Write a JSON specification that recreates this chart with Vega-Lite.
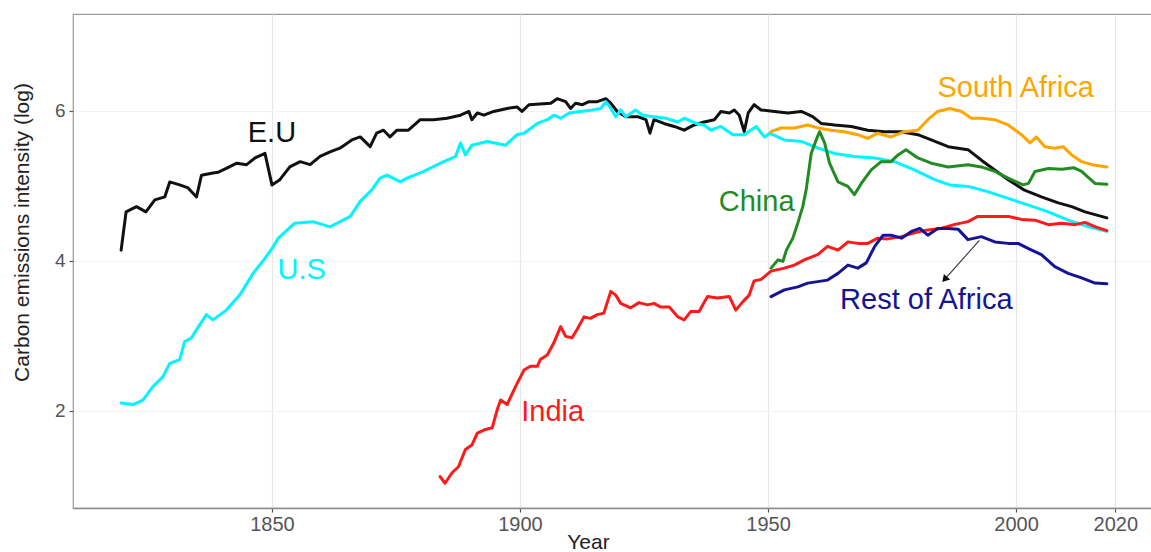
{
  "$schema": "https://vega.github.io/schema/vega-lite/v6.json",
  "autosize": "none",
  "width": 1082,
  "height": 494,
  "padding": {"left": 73, "top": 14, "right": 0, "bottom": 44},
  "background": "white",
  "config": {
    "view": {"stroke": "#9a9a9a", "strokeWidth": 1.2},
    "font": "Liberation Sans"
  },
  "datasets": {
    "series": [
      {"region": "E.U", "year": 1819.6, "value": 4.14},
      {"region": "E.U", "year": 1820.6, "value": 4.65},
      {"region": "E.U", "year": 1822.7, "value": 4.72},
      {"region": "E.U", "year": 1824.6, "value": 4.65},
      {"region": "E.U", "year": 1826.4, "value": 4.81},
      {"region": "E.U", "year": 1828.4, "value": 4.85},
      {"region": "E.U", "year": 1829.4, "value": 5.05},
      {"region": "E.U", "year": 1831.4, "value": 5.01},
      {"region": "E.U", "year": 1833.1, "value": 4.97},
      {"region": "E.U", "year": 1834.8, "value": 4.85},
      {"region": "E.U", "year": 1835.8, "value": 5.14},
      {"region": "E.U", "year": 1838.1, "value": 5.17},
      {"region": "E.U", "year": 1839.2, "value": 5.18},
      {"region": "E.U", "year": 1840.8, "value": 5.23},
      {"region": "E.U", "year": 1842.9, "value": 5.30},
      {"region": "E.U", "year": 1844.9, "value": 5.28},
      {"region": "E.U", "year": 1846.6, "value": 5.37},
      {"region": "E.U", "year": 1848.6, "value": 5.43},
      {"region": "E.U", "year": 1850.0, "value": 5.01},
      {"region": "E.U", "year": 1851.6, "value": 5.08},
      {"region": "E.U", "year": 1853.6, "value": 5.25},
      {"region": "E.U", "year": 1855.7, "value": 5.32},
      {"region": "E.U", "year": 1857.7, "value": 5.28},
      {"region": "E.U", "year": 1859.7, "value": 5.39},
      {"region": "E.U", "year": 1861.7, "value": 5.45},
      {"region": "E.U", "year": 1863.7, "value": 5.50},
      {"region": "E.U", "year": 1866.1, "value": 5.61},
      {"region": "E.U", "year": 1867.8, "value": 5.65},
      {"region": "E.U", "year": 1869.8, "value": 5.52},
      {"region": "E.U", "year": 1871.1, "value": 5.70},
      {"region": "E.U", "year": 1872.5, "value": 5.74},
      {"region": "E.U", "year": 1873.8, "value": 5.65},
      {"region": "E.U", "year": 1875.2, "value": 5.74},
      {"region": "E.U", "year": 1877.5, "value": 5.74},
      {"region": "E.U", "year": 1879.9, "value": 5.88},
      {"region": "E.U", "year": 1882.6, "value": 5.88},
      {"region": "E.U", "year": 1885.3, "value": 5.90},
      {"region": "E.U", "year": 1888.0, "value": 5.94},
      {"region": "E.U", "year": 1889.7, "value": 5.99},
      {"region": "E.U", "year": 1890.3, "value": 5.88},
      {"region": "E.U", "year": 1891.4, "value": 5.97},
      {"region": "E.U", "year": 1892.7, "value": 5.94},
      {"region": "E.U", "year": 1894.7, "value": 5.99},
      {"region": "E.U", "year": 1897.4, "value": 6.03},
      {"region": "E.U", "year": 1899.4, "value": 6.05},
      {"region": "E.U", "year": 1900.4, "value": 5.99},
      {"region": "E.U", "year": 1901.8, "value": 6.08},
      {"region": "E.U", "year": 1906.2, "value": 6.10},
      {"region": "E.U", "year": 1907.5, "value": 6.16},
      {"region": "E.U", "year": 1909.2, "value": 6.12},
      {"region": "E.U", "year": 1910.2, "value": 6.03},
      {"region": "E.U", "year": 1911.2, "value": 6.10},
      {"region": "E.U", "year": 1912.6, "value": 6.08},
      {"region": "E.U", "year": 1913.9, "value": 6.12},
      {"region": "E.U", "year": 1915.6, "value": 6.12},
      {"region": "E.U", "year": 1917.3, "value": 6.16},
      {"region": "E.U", "year": 1918.3, "value": 6.10},
      {"region": "E.U", "year": 1919.6, "value": 5.99},
      {"region": "E.U", "year": 1921.3, "value": 5.92},
      {"region": "E.U", "year": 1923.7, "value": 5.92},
      {"region": "E.U", "year": 1925.4, "value": 5.88},
      {"region": "E.U", "year": 1926.2, "value": 5.70},
      {"region": "E.U", "year": 1927.0, "value": 5.88},
      {"region": "E.U", "year": 1929.0, "value": 5.83},
      {"region": "E.U", "year": 1931.1, "value": 5.79},
      {"region": "E.U", "year": 1933.1, "value": 5.74},
      {"region": "E.U", "year": 1935.1, "value": 5.81},
      {"region": "E.U", "year": 1937.1, "value": 5.85},
      {"region": "E.U", "year": 1939.2, "value": 5.88},
      {"region": "E.U", "year": 1940.5, "value": 5.99},
      {"region": "E.U", "year": 1942.2, "value": 5.97},
      {"region": "E.U", "year": 1943.2, "value": 6.01},
      {"region": "E.U", "year": 1944.2, "value": 5.94},
      {"region": "E.U", "year": 1945.2, "value": 5.72},
      {"region": "E.U", "year": 1946.0, "value": 5.97},
      {"region": "E.U", "year": 1947.2, "value": 6.08},
      {"region": "E.U", "year": 1948.6, "value": 6.01},
      {"region": "E.U", "year": 1951.3, "value": 5.99},
      {"region": "E.U", "year": 1954.0, "value": 5.97},
      {"region": "E.U", "year": 1956.7, "value": 5.99},
      {"region": "E.U", "year": 1959.0, "value": 5.92},
      {"region": "E.U", "year": 1960.7, "value": 5.83},
      {"region": "E.U", "year": 1963.4, "value": 5.81},
      {"region": "E.U", "year": 1966.8, "value": 5.79},
      {"region": "E.U", "year": 1970.1, "value": 5.74},
      {"region": "E.U", "year": 1973.5, "value": 5.72},
      {"region": "E.U", "year": 1976.9, "value": 5.72},
      {"region": "E.U", "year": 1980.2, "value": 5.68},
      {"region": "E.U", "year": 1982.9, "value": 5.61},
      {"region": "E.U", "year": 1986.3, "value": 5.52},
      {"region": "E.U", "year": 1990.3, "value": 5.48},
      {"region": "E.U", "year": 1993.0, "value": 5.34},
      {"region": "E.U", "year": 1995.7, "value": 5.21},
      {"region": "E.U", "year": 1998.4, "value": 5.08},
      {"region": "E.U", "year": 2001.7, "value": 4.94},
      {"region": "E.U", "year": 2005.1, "value": 4.85},
      {"region": "E.U", "year": 2008.5, "value": 4.77},
      {"region": "E.U", "year": 2011.2, "value": 4.72},
      {"region": "E.U", "year": 2013.9, "value": 4.65},
      {"region": "E.U", "year": 2018.3, "value": 4.57},

      {"region": "U.S", "year": 1819.6, "value": 2.10},
      {"region": "U.S", "year": 1822.0, "value": 2.08},
      {"region": "U.S", "year": 1824.0, "value": 2.14},
      {"region": "U.S", "year": 1826.0, "value": 2.32},
      {"region": "U.S", "year": 1828.0, "value": 2.45},
      {"region": "U.S", "year": 1829.4, "value": 2.63},
      {"region": "U.S", "year": 1831.4, "value": 2.68},
      {"region": "U.S", "year": 1832.4, "value": 2.92},
      {"region": "U.S", "year": 1833.8, "value": 2.97},
      {"region": "U.S", "year": 1834.8, "value": 3.08},
      {"region": "U.S", "year": 1836.8, "value": 3.28},
      {"region": "U.S", "year": 1838.1, "value": 3.21},
      {"region": "U.S", "year": 1840.8, "value": 3.34},
      {"region": "U.S", "year": 1843.5, "value": 3.54},
      {"region": "U.S", "year": 1846.2, "value": 3.83},
      {"region": "U.S", "year": 1848.6, "value": 4.03},
      {"region": "U.S", "year": 1850.3, "value": 4.19},
      {"region": "U.S", "year": 1851.3, "value": 4.30},
      {"region": "U.S", "year": 1854.6, "value": 4.50},
      {"region": "U.S", "year": 1858.3, "value": 4.52},
      {"region": "U.S", "year": 1861.7, "value": 4.45},
      {"region": "U.S", "year": 1865.8, "value": 4.59},
      {"region": "U.S", "year": 1867.8, "value": 4.79},
      {"region": "U.S", "year": 1870.1, "value": 4.94},
      {"region": "U.S", "year": 1871.8, "value": 5.10},
      {"region": "U.S", "year": 1873.2, "value": 5.14},
      {"region": "U.S", "year": 1875.9, "value": 5.05},
      {"region": "U.S", "year": 1877.2, "value": 5.10},
      {"region": "U.S", "year": 1880.6, "value": 5.19},
      {"region": "U.S", "year": 1884.0, "value": 5.30},
      {"region": "U.S", "year": 1887.0, "value": 5.39},
      {"region": "U.S", "year": 1888.0, "value": 5.57},
      {"region": "U.S", "year": 1889.0, "value": 5.41},
      {"region": "U.S", "year": 1890.3, "value": 5.54},
      {"region": "U.S", "year": 1893.4, "value": 5.59},
      {"region": "U.S", "year": 1897.1, "value": 5.54},
      {"region": "U.S", "year": 1899.4, "value": 5.68},
      {"region": "U.S", "year": 1900.8, "value": 5.70},
      {"region": "U.S", "year": 1903.5, "value": 5.83},
      {"region": "U.S", "year": 1905.5, "value": 5.88},
      {"region": "U.S", "year": 1906.8, "value": 5.94},
      {"region": "U.S", "year": 1908.2, "value": 5.90},
      {"region": "U.S", "year": 1909.9, "value": 5.97},
      {"region": "U.S", "year": 1912.2, "value": 5.99},
      {"region": "U.S", "year": 1914.6, "value": 6.01},
      {"region": "U.S", "year": 1916.3, "value": 6.03},
      {"region": "U.S", "year": 1917.3, "value": 6.12},
      {"region": "U.S", "year": 1918.3, "value": 6.03},
      {"region": "U.S", "year": 1919.3, "value": 5.92},
      {"region": "U.S", "year": 1920.3, "value": 6.01},
      {"region": "U.S", "year": 1921.3, "value": 5.92},
      {"region": "U.S", "year": 1923.3, "value": 6.01},
      {"region": "U.S", "year": 1924.7, "value": 5.94},
      {"region": "U.S", "year": 1927.0, "value": 5.92},
      {"region": "U.S", "year": 1929.4, "value": 5.90},
      {"region": "U.S", "year": 1931.8, "value": 5.85},
      {"region": "U.S", "year": 1933.1, "value": 5.90},
      {"region": "U.S", "year": 1935.5, "value": 5.83},
      {"region": "U.S", "year": 1937.1, "value": 5.81},
      {"region": "U.S", "year": 1938.5, "value": 5.74},
      {"region": "U.S", "year": 1940.5, "value": 5.79},
      {"region": "U.S", "year": 1942.9, "value": 5.68},
      {"region": "U.S", "year": 1945.2, "value": 5.68},
      {"region": "U.S", "year": 1947.6, "value": 5.79},
      {"region": "U.S", "year": 1949.3, "value": 5.65},
      {"region": "U.S", "year": 1950.3, "value": 5.70},
      {"region": "U.S", "year": 1953.3, "value": 5.61},
      {"region": "U.S", "year": 1956.7, "value": 5.59},
      {"region": "U.S", "year": 1960.1, "value": 5.50},
      {"region": "U.S", "year": 1963.4, "value": 5.43},
      {"region": "U.S", "year": 1967.4, "value": 5.39},
      {"region": "U.S", "year": 1971.5, "value": 5.37},
      {"region": "U.S", "year": 1975.5, "value": 5.32},
      {"region": "U.S", "year": 1979.5, "value": 5.21},
      {"region": "U.S", "year": 1983.6, "value": 5.08},
      {"region": "U.S", "year": 1986.6, "value": 5.01},
      {"region": "U.S", "year": 1990.3, "value": 4.99},
      {"region": "U.S", "year": 1994.3, "value": 4.92},
      {"region": "U.S", "year": 1998.4, "value": 4.83},
      {"region": "U.S", "year": 2002.5, "value": 4.74},
      {"region": "U.S", "year": 2006.5, "value": 4.65},
      {"region": "U.S", "year": 2010.5, "value": 4.54},
      {"region": "U.S", "year": 2014.6, "value": 4.45},
      {"region": "U.S", "year": 2018.3, "value": 4.39},

      {"region": "South Africa", "year": 1950.6, "value": 5.72},
      {"region": "South Africa", "year": 1952.6, "value": 5.77},
      {"region": "South Africa", "year": 1955.3, "value": 5.77},
      {"region": "South Africa", "year": 1958.0, "value": 5.81},
      {"region": "South Africa", "year": 1960.1, "value": 5.77},
      {"region": "South Africa", "year": 1962.7, "value": 5.74},
      {"region": "South Africa", "year": 1965.4, "value": 5.72},
      {"region": "South Africa", "year": 1968.1, "value": 5.68},
      {"region": "South Africa", "year": 1970.1, "value": 5.63},
      {"region": "South Africa", "year": 1972.1, "value": 5.70},
      {"region": "South Africa", "year": 1974.8, "value": 5.65},
      {"region": "South Africa", "year": 1977.5, "value": 5.72},
      {"region": "South Africa", "year": 1980.2, "value": 5.74},
      {"region": "South Africa", "year": 1982.2, "value": 5.88},
      {"region": "South Africa", "year": 1984.2, "value": 5.99},
      {"region": "South Africa", "year": 1986.6, "value": 6.03},
      {"region": "South Africa", "year": 1989.0, "value": 5.99},
      {"region": "South Africa", "year": 1991.0, "value": 5.90},
      {"region": "South Africa", "year": 1993.0, "value": 5.90},
      {"region": "South Africa", "year": 1995.7, "value": 5.88},
      {"region": "South Africa", "year": 1998.4, "value": 5.81},
      {"region": "South Africa", "year": 2001.1, "value": 5.68},
      {"region": "South Africa", "year": 2002.8, "value": 5.57},
      {"region": "South Africa", "year": 2004.1, "value": 5.65},
      {"region": "South Africa", "year": 2005.8, "value": 5.52},
      {"region": "South Africa", "year": 2007.8, "value": 5.50},
      {"region": "South Africa", "year": 2009.5, "value": 5.52},
      {"region": "South Africa", "year": 2011.2, "value": 5.41},
      {"region": "South Africa", "year": 2013.2, "value": 5.32},
      {"region": "South Africa", "year": 2015.3, "value": 5.28},
      {"region": "South Africa", "year": 2018.3, "value": 5.25},

      {"region": "China", "year": 1950.6, "value": 3.90},
      {"region": "China", "year": 1952.0, "value": 4.01},
      {"region": "China", "year": 1953.0, "value": 3.99},
      {"region": "China", "year": 1953.7, "value": 4.14},
      {"region": "China", "year": 1955.0, "value": 4.30},
      {"region": "China", "year": 1956.0, "value": 4.50},
      {"region": "China", "year": 1957.0, "value": 4.72},
      {"region": "China", "year": 1957.7, "value": 4.95},
      {"region": "China", "year": 1958.7, "value": 5.43},
      {"region": "China", "year": 1959.7, "value": 5.61},
      {"region": "China", "year": 1960.4, "value": 5.72},
      {"region": "China", "year": 1961.4, "value": 5.57},
      {"region": "China", "year": 1962.4, "value": 5.30},
      {"region": "China", "year": 1964.1, "value": 5.05},
      {"region": "China", "year": 1966.1, "value": 4.99},
      {"region": "China", "year": 1967.4, "value": 4.88},
      {"region": "China", "year": 1968.8, "value": 5.03},
      {"region": "China", "year": 1970.8, "value": 5.21},
      {"region": "China", "year": 1972.8, "value": 5.32},
      {"region": "China", "year": 1974.8, "value": 5.32},
      {"region": "China", "year": 1976.2, "value": 5.41},
      {"region": "China", "year": 1977.8, "value": 5.48},
      {"region": "China", "year": 1980.2, "value": 5.37},
      {"region": "China", "year": 1982.9, "value": 5.30},
      {"region": "China", "year": 1986.3, "value": 5.25},
      {"region": "China", "year": 1990.3, "value": 5.28},
      {"region": "China", "year": 1993.0, "value": 5.25},
      {"region": "China", "year": 1995.7, "value": 5.19},
      {"region": "China", "year": 1998.4, "value": 5.10},
      {"region": "China", "year": 2001.4, "value": 5.01},
      {"region": "China", "year": 2002.5, "value": 5.03},
      {"region": "China", "year": 2003.8, "value": 5.19},
      {"region": "China", "year": 2006.5, "value": 5.23},
      {"region": "China", "year": 2009.2, "value": 5.22},
      {"region": "China", "year": 2011.6, "value": 5.24},
      {"region": "China", "year": 2013.2, "value": 5.19},
      {"region": "China", "year": 2015.9, "value": 5.03},
      {"region": "China", "year": 2018.3, "value": 5.02},

      {"region": "India", "year": 1883.9, "value": 1.12},
      {"region": "India", "year": 1884.9, "value": 1.03},
      {"region": "India", "year": 1886.3, "value": 1.17},
      {"region": "India", "year": 1887.6, "value": 1.25},
      {"region": "India", "year": 1889.0, "value": 1.48},
      {"region": "India", "year": 1890.3, "value": 1.54},
      {"region": "India", "year": 1891.4, "value": 1.70},
      {"region": "India", "year": 1892.7, "value": 1.74},
      {"region": "India", "year": 1894.4, "value": 1.77},
      {"region": "India", "year": 1895.4, "value": 2.01},
      {"region": "India", "year": 1896.1, "value": 2.14},
      {"region": "India", "year": 1897.4, "value": 2.08},
      {"region": "India", "year": 1899.1, "value": 2.32},
      {"region": "India", "year": 1900.8, "value": 2.54},
      {"region": "India", "year": 1902.1, "value": 2.59},
      {"region": "India", "year": 1903.5, "value": 2.59},
      {"region": "India", "year": 1904.1, "value": 2.68},
      {"region": "India", "year": 1905.5, "value": 2.74},
      {"region": "India", "year": 1906.8, "value": 2.90},
      {"region": "India", "year": 1908.2, "value": 3.12},
      {"region": "India", "year": 1909.2, "value": 2.99},
      {"region": "India", "year": 1910.5, "value": 2.97},
      {"region": "India", "year": 1911.5, "value": 3.08},
      {"region": "India", "year": 1912.9, "value": 3.25},
      {"region": "India", "year": 1914.2, "value": 3.23},
      {"region": "India", "year": 1915.6, "value": 3.28},
      {"region": "India", "year": 1916.9, "value": 3.30},
      {"region": "India", "year": 1918.3, "value": 3.59},
      {"region": "India", "year": 1919.3, "value": 3.54},
      {"region": "India", "year": 1920.3, "value": 3.43},
      {"region": "India", "year": 1922.3, "value": 3.37},
      {"region": "India", "year": 1924.0, "value": 3.44},
      {"region": "India", "year": 1925.7, "value": 3.41},
      {"region": "India", "year": 1927.0, "value": 3.43},
      {"region": "India", "year": 1928.4, "value": 3.38},
      {"region": "India", "year": 1930.1, "value": 3.38},
      {"region": "India", "year": 1931.8, "value": 3.25},
      {"region": "India", "year": 1933.1, "value": 3.21},
      {"region": "India", "year": 1934.4, "value": 3.32},
      {"region": "India", "year": 1936.1, "value": 3.32},
      {"region": "India", "year": 1937.8, "value": 3.52},
      {"region": "India", "year": 1939.8, "value": 3.50},
      {"region": "India", "year": 1942.2, "value": 3.52},
      {"region": "India", "year": 1943.5, "value": 3.34},
      {"region": "India", "year": 1944.9, "value": 3.45},
      {"region": "India", "year": 1946.2, "value": 3.54},
      {"region": "India", "year": 1947.2, "value": 3.73},
      {"region": "India", "year": 1948.6, "value": 3.75},
      {"region": "India", "year": 1950.6, "value": 3.86},
      {"region": "India", "year": 1953.3, "value": 3.90},
      {"region": "India", "year": 1955.3, "value": 3.94},
      {"region": "India", "year": 1957.3, "value": 4.01},
      {"region": "India", "year": 1960.0, "value": 4.08},
      {"region": "India", "year": 1962.0, "value": 4.19},
      {"region": "India", "year": 1964.1, "value": 4.14},
      {"region": "India", "year": 1966.1, "value": 4.25},
      {"region": "India", "year": 1968.1, "value": 4.23},
      {"region": "India", "year": 1970.1, "value": 4.23},
      {"region": "India", "year": 1972.1, "value": 4.30},
      {"region": "India", "year": 1974.1, "value": 4.29},
      {"region": "India", "year": 1976.9, "value": 4.32},
      {"region": "India", "year": 1979.5, "value": 4.37},
      {"region": "India", "year": 1982.2, "value": 4.41},
      {"region": "India", "year": 1984.8, "value": 4.43},
      {"region": "India", "year": 1987.5, "value": 4.48},
      {"region": "India", "year": 1990.3, "value": 4.52},
      {"region": "India", "year": 1992.3, "value": 4.59},
      {"region": "India", "year": 1995.7, "value": 4.59},
      {"region": "India", "year": 1998.4, "value": 4.59},
      {"region": "India", "year": 2001.1, "value": 4.55},
      {"region": "India", "year": 2003.8, "value": 4.54},
      {"region": "India", "year": 2006.5, "value": 4.48},
      {"region": "India", "year": 2009.2, "value": 4.50},
      {"region": "India", "year": 2011.9, "value": 4.48},
      {"region": "India", "year": 2013.9, "value": 4.51},
      {"region": "India", "year": 2016.0, "value": 4.45},
      {"region": "India", "year": 2018.3, "value": 4.40},

      {"region": "Rest of Africa", "year": 1950.6, "value": 3.52},
      {"region": "Rest of Africa", "year": 1953.3, "value": 3.61},
      {"region": "Rest of Africa", "year": 1956.0, "value": 3.65},
      {"region": "Rest of Africa", "year": 1958.0, "value": 3.70},
      {"region": "Rest of Africa", "year": 1960.0, "value": 3.72},
      {"region": "Rest of Africa", "year": 1962.0, "value": 3.74},
      {"region": "Rest of Africa", "year": 1964.1, "value": 3.83},
      {"region": "Rest of Africa", "year": 1966.1, "value": 3.94},
      {"region": "Rest of Africa", "year": 1968.1, "value": 3.90},
      {"region": "Rest of Africa", "year": 1969.8, "value": 3.97},
      {"region": "Rest of Africa", "year": 1971.5, "value": 4.19},
      {"region": "Rest of Africa", "year": 1973.2, "value": 4.34},
      {"region": "Rest of Africa", "year": 1974.8, "value": 4.34},
      {"region": "Rest of Africa", "year": 1976.9, "value": 4.30},
      {"region": "Rest of Africa", "year": 1978.9, "value": 4.39},
      {"region": "Rest of Africa", "year": 1980.6, "value": 4.43},
      {"region": "Rest of Africa", "year": 1982.2, "value": 4.34},
      {"region": "Rest of Africa", "year": 1984.2, "value": 4.43},
      {"region": "Rest of Africa", "year": 1986.3, "value": 4.43},
      {"region": "Rest of Africa", "year": 1988.3, "value": 4.42},
      {"region": "Rest of Africa", "year": 1990.3, "value": 4.28},
      {"region": "Rest of Africa", "year": 1993.0, "value": 4.32},
      {"region": "Rest of Africa", "year": 1995.7, "value": 4.25},
      {"region": "Rest of Africa", "year": 1998.4, "value": 4.23},
      {"region": "Rest of Africa", "year": 2000.4, "value": 4.23},
      {"region": "Rest of Africa", "year": 2002.5, "value": 4.16},
      {"region": "Rest of Africa", "year": 2005.1, "value": 4.08},
      {"region": "Rest of Africa", "year": 2007.8, "value": 3.92},
      {"region": "Rest of Africa", "year": 2010.5, "value": 3.83},
      {"region": "Rest of Africa", "year": 2013.2, "value": 3.77},
      {"region": "Rest of Africa", "year": 2015.9, "value": 3.70},
      {"region": "Rest of Africa", "year": 2018.3, "value": 3.69}
    ],
    "labels": [
      {"region": "E.U", "year": 1850.0, "value": 5.70},
      {"region": "U.S", "year": 1856.0, "value": 3.87},
      {"region": "India", "year": 1906.6, "value": 1.98},
      {"region": "China", "year": 1947.7, "value": 4.78},
      {"region": "South Africa", "year": 1999.9, "value": 6.30},
      {"region": "Rest of Africa", "year": 1981.9, "value": 3.47}
    ],
    "arrow": [
      {"year": 1992.6, "value": 4.27, "year2": 1985.6, "value2": 3.75}
    ]
  },
  "encoding": {
    "x": {
      "field": "year", "type": "quantitative",
      "scale": {"domain": [1809.9, 2028], "nice": false, "zero": false},
      "axis": {
        "title": "Year",
        "values": [1850, 1900, 1950, 2000, 2020],
        "format": "d",
        "grid": true, "gridColor": "#e6e6e6", "gridWidth": 1.2,
        "domain": true, "domainColor": "#8c8c8c", "domainWidth": 1.6,
        "ticks": true, "tickColor": "#555555", "tickSize": 4, "tickWidth": 1.2,
        "labelFont": "Liberation Sans", "labelFontSize": 20, "labelColor": "#555555", "labelPadding": 2,
        "titleFont": "Liberation Sans", "titleFontSize": 21, "titleFontWeight": "normal", "titleColor": "#222222",
        "titleX": 515, "titleY": 34, "titleBaseline": "middle"
      }
    },
    "y": {
      "field": "value", "type": "quantitative",
      "scale": {"domain": [0.70, 7.29], "nice": false, "zero": false},
      "axis": {
        "title": "Carbon emissions intensity (log)",
        "values": [2, 4, 6],
        "grid": true, "gridColor": "#f2f2f2", "gridWidth": 1.2,
        "domain": false,
        "ticks": true, "tickColor": "#555555", "tickSize": 4, "tickWidth": 1.2,
        "labelFont": "Liberation Sans", "labelFontSize": 19, "labelColor": "#555555", "labelPadding": 4,
        "titleFont": "Liberation Sans", "titleFontSize": 21, "titleFontWeight": "normal", "titleColor": "#222222",
        "titleX": -51, "titleY": 218, "titleBaseline": "middle", "titleAngle": -90
      }
    },
    "color": {
      "field": "region", "type": "nominal",
      "scale": {
        "domain": ["E.U", "U.S", "South Africa", "China", "India", "Rest of Africa"],
        "range": ["#111111", "#00f5ff", "#ffa500", "#228b22", "#ff1a1a", "#141494"]
      },
      "legend": null
    }
  },
  "layer": [
    {
      "data": {"name": "series"},
      "mark": {"type": "line", "strokeWidth": 3, "strokeJoin": "round", "strokeCap": "round"},
      "encoding": {"detail": {"field": "region"}}
    },
    {
      "data": {"name": "labels"},
      "mark": {"type": "text", "font": "Liberation Sans", "fontSize": 29, "align": "center", "baseline": "middle"},
      "encoding": {"text": {"field": "region"}}
    },
    {
      "data": {"name": "arrow"},
      "mark": {"type": "rule", "color": "#333333", "strokeWidth": 1.1},
      "encoding": {
        "x2": {"field": "year2"},
        "y2": {"field": "value2"},
        "color": {"value": "#333333"}
      }
    },
    {
      "data": {"name": "arrow"},
      "mark": {"type": "point", "shape": "triangle-up", "filled": true, "size": 70, "angle": 221, "opacity": 1},
      "encoding": {
        "x": {"field": "year2", "type": "quantitative"},
        "y": {"field": "value2", "type": "quantitative"},
        "color": {"value": "#111111"}
      }
    }
  ]
}
